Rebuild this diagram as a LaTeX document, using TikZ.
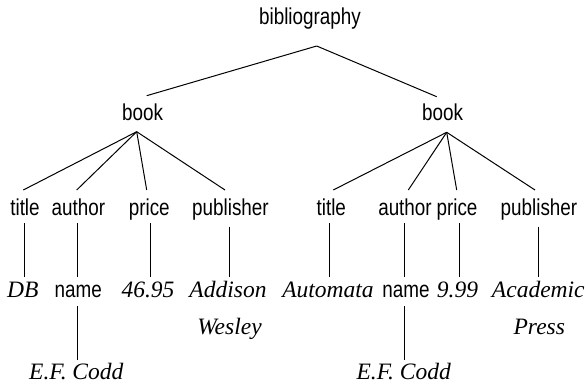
\documentclass[tikz,border=0pt]{standalone}
\usepackage{fontspec}
\newfontfamily\lsans[FakeStretch=0.82]{Liberation Sans}
\newfontfamily\lserif{Liberation Serif}
\begin{document}
\begin{tikzpicture}[x=1pt,y=-1pt,
  tag/.style={font=\lsans\fontsize{23}{27}\selectfont, anchor=base, inner sep=0pt},
  val/.style={font=\lserif\itshape\fontsize{23.5}{28}\selectfont, anchor=base, inner sep=0pt},
  edge/.style={draw=black, line width=1pt}]
\fill[white] (0,0) rectangle (587,385);
\useasboundingbox (0,0) rectangle (587,385);
% level 0
\node[tag] (bib) at (310,25) {bibliography};
% level 1
\node[tag] (bookA) at (142.5,121) {book};
\node[tag] (bookB) at (442.5,121) {book};
% level 2
\node[tag] (titleA) at (25,216) {title};
\node[tag] (authorA) at (78.3,216) {author};
\node[tag] (priceA) at (149.3,216) {price};
\node[tag] (pubA) at (230.5,216) {publisher};
\node[tag] (titleB) at (331.3,216) {title};
\node[tag] (authorB) at (405,216) {author};
\node[tag] (priceB) at (457,216) {price};
\node[tag] (pubB) at (539,216) {publisher};
% level 3
\node[val] (db) at (22.8,298) {DB};
\node[tag] (nameA) at (78.3,298) {name};
\node[val] (pA) at (148,298) {46.95};
\node[val] (addison) at (228,298) {Addison};
\node[val] (wesley) at (229.5,334) {Wesley};
\node[val] (automata) at (328,298) {Automata};
\node[tag] (nameB) at (406,298) {name};
\node[val] (pB) at (457.5,298) {9.99};
\node[val] (academic) at (538.3,298) {Academic};
\node[val] (press) at (539.3,334) {Press};
% level 4
\node[val] (coddA) at (76.3,379) {E.F. Codd};
\node[val] (coddB) at (403.7,379) {E.F. Codd};
% connectors
\draw[edge] ([shift={(6.7,21)}]bib.base) -- ([shift={(4.2,-25.3)}]bookA.base);
\draw[edge] ([shift={(6.7,21)}]bib.base) -- ([shift={(-5.8,-24.3)}]bookB.base);
\draw[edge] ([shift={(-5.8,10.7)}]bookA.base) -- ([shift={(-1.7,-26)}]titleA.base);
\draw[edge] ([shift={(-5.8,10.7)}]bookA.base) -- ([shift={(-1.6,-26)}]authorA.base);
\draw[edge] ([shift={(-5.8,10.7)}]bookA.base) -- ([shift={(-2.6,-26)}]priceA.base);
\draw[edge] ([shift={(-5.8,10.7)}]bookA.base) -- ([shift={(-5.5,-26)}]pubA.base);
\draw[edge] ([shift={(4.2,11.3)}]bookB.base) -- ([shift={(2,-26)}]titleB.base);
\draw[edge] ([shift={(4.2,11.3)}]bookB.base) -- ([shift={(3.3,-26)}]authorB.base);
\draw[edge] ([shift={(4.2,11.3)}]bookB.base) -- ([shift={(-0.3,-26)}]priceB.base);
\draw[edge] ([shift={(4.2,11.3)}]bookB.base) -- ([shift={(-4,-26)}]pubB.base);
% level 2 -> 3
\draw[edge] ([shift={(-1,7.3)}]titleA.base) -- ([shift={(1.2,-21.3)}]db.base);
\draw[edge] ([shift={(-1,7.3)}]authorA.base) -- ([shift={(-1,-21.3)}]nameA.base);
\draw[edge] ([shift={(0.7,7.3)}]priceA.base) -- ([shift={(2,-21.3)}]pA.base);
\draw[edge] ([shift={(-1.2,10.7)}]pubA.base) -- ([shift={(1.3,-21.3)}]addison.base);
\draw[edge] ([shift={(-2,7.3)}]titleB.base) -- ([shift={(1.3,-21.3)}]automata.base);
\draw[edge] ([shift={(-0.7,7.3)}]authorB.base) -- ([shift={(-1.7,-21.3)}]nameB.base);
\draw[edge] ([shift={(2.3,7.3)}]priceB.base) -- ([shift={(1.8,-21.3)}]pB.base);
\draw[edge] ([shift={(-0.7,10.7)}]pubB.base) -- ([shift={(0,-21.3)}]academic.base);
% name -> codd
\draw[edge] ([shift={(-1,8)}]nameA.base) -- ([shift={(1,-19)}]coddA.base);
\draw[edge] ([shift={(-1.7,8)}]nameB.base) -- ([shift={(0.6,-19)}]coddB.base);
\end{tikzpicture}
\end{document}
